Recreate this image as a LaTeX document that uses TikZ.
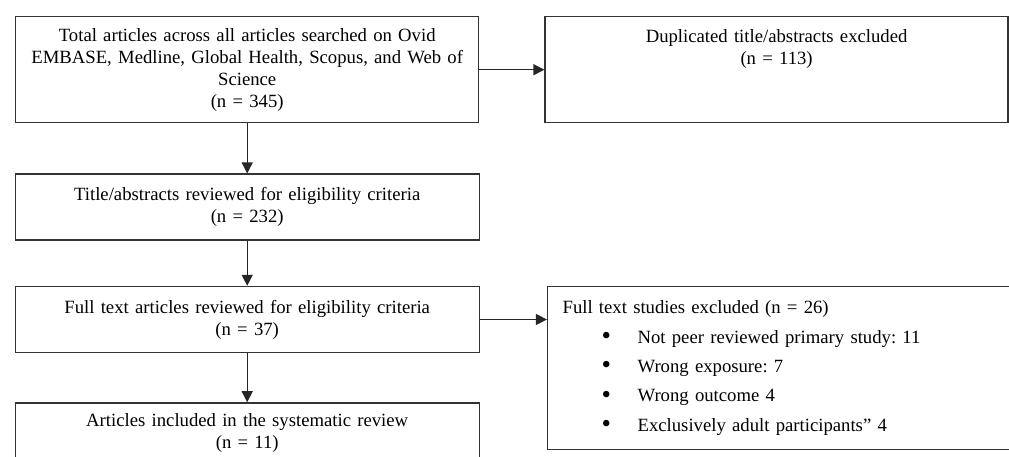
\documentclass[tikz,border=0pt]{standalone}
\usepackage{fontspec}
\setmainfont{Liberation Serif}
\frenchspacing
\usetikzlibrary{arrows.meta,positioning}
\tikzstyle{block} = [rectangle, draw=black!80, line width=1.4pt, inner sep=0pt,
    text width=450pt, align=center, minimum width=464pt, minimum height=66pt,
    font=\fontsize{18.7}{22}\selectfont]
\tikzstyle{listblock} = [block, align=left, inner xsep=15pt, text width=440pt,
    minimum width=470pt, minimum height=163pt, font=\fontsize{18.7}{29.3}\selectfont]
\newcommand{\itembul}{\hspace*{39pt}\makebox[36pt][l]{\raisebox{-1.5pt}{\fontsize{27}{27}\selectfont •}}}

\begin{document}
\begin{tikzpicture}[x=1pt,y=-1pt,->,>={Triangle[length=11pt,width=11pt]},
                    line width=1.2pt,draw=black!85]
  \useasboundingbox (0,0) rectangle (1009,456);
  \clip (0,0) rectangle (1009,456);

  \node[block,anchor=north west,minimum width=463pt,minimum height=106pt] (total) at (15,16)
    {Total articles across all articles searched on Ovid\\
     EMBASE, Medline, Global Health, Scopus, and Web of\\
     Science\\(n = 345)};
  \node[block,minimum width=463pt,minimum height=106pt,text height=26pt,text depth=80pt]
    (dup) [right=65pt of total] {Duplicated title/abstracts excluded\\(n = 113)};
  \node[block] (title)    [below=50pt of total] {Title/abstracts reviewed for eligibility criteria\\(n = 232)};
  \node[block] (full)     [below=45pt of title] {Full text articles reviewed for eligibility criteria\\(n = 37)};
  \node[block,minimum height=61pt] (included) [below=49pt of full] {Articles included in the systematic review\\(n = 11)};
  \node[listblock] (excl) [right=67pt of full.north east,anchor=north west]
    {Full text studies excluded (n = 26)\\
     \itembul Not peer reviewed primary study: 11\\
     \itembul Wrong exposure: 7\\
     \itembul Wrong outcome 4\\
     \itembul Exclusively adult participants” 4};

  \draw (total.east)  -- (total.east -| dup.west);
  \draw (total.south) -- (total.south |- title.north);
  \draw (title.south) -- (title.south |- full.north);
  \draw (full.south)  -- (full.south |- included.north);
  \draw (full.east)   -- (full.east -| excl.west);
\end{tikzpicture}
\end{document}
